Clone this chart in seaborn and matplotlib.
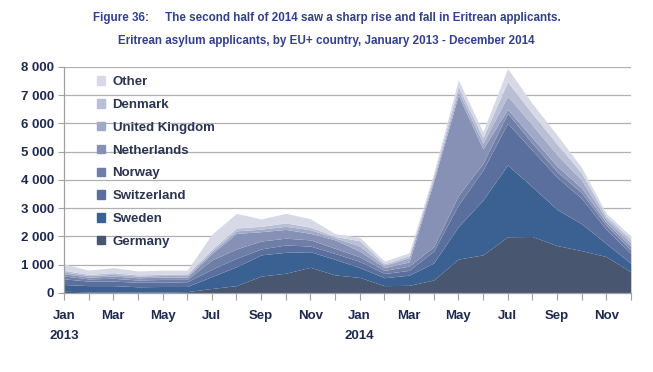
import matplotlib
matplotlib.use("Agg")
import matplotlib.pyplot as plt
import matplotlib.patches as mpatches
import numpy as np
import seaborn as sns

months = ["Jan", "Feb", "Mar", "Apr", "May", "Jun", "Jul", "Aug", "Sep", "Oct", "Nov", "Dec"] * 2
tick_labels = ["Jan\n2013", "Mar", "May", "Jul", "Sep", "Nov",
               "Jan\n2014", "Mar", "May", "Jul", "Sep", "Nov"]
countries = ["Germany", "Sweden", "Switzerland", "Norway", "Netherlands",
             "United Kingdom", "Denmark", "Other"]

# monthly applicants, Jan 2013 - Dec 2014
germany = [60, 40, 40, 30, 30, 50, 160, 260, 600, 700, 910, 640,
           550, 260, 270, 460, 1200, 1350, 1990, 2000, 1680, 1500, 1290, 750]
sweden = [240, 220, 220, 190, 200, 180, 420, 670, 750, 740, 550, 550,
          350, 280, 360, 600, 1150, 1940, 2540, 1760, 1280, 950, 460, 300]
switzerland = [200, 160, 160, 160, 150, 170, 260, 300, 210, 260, 200, 210,
               220, 150, 170, 420, 770, 1060, 1480, 1290, 1140, 900, 500, 350]
norway = [100, 80, 100, 80, 100, 80, 330, 330, 280, 240, 220, 180,
          160, 110, 150, 160, 330, 240, 350, 250, 200, 200, 150, 120]
netherlands = [80, 60, 80, 80, 80, 80, 230, 550, 330, 310, 230, 300,
               200, 100, 150, 2310, 3550, 510, 140, 200, 200, 170, 100, 130]
uk = [60, 60, 60, 60, 60, 60, 80, 90, 90, 110, 130, 70,
      180, 80, 150, 100, 150, 200, 470, 450, 400, 280, 120, 130]
denmark = [60, 40, 60, 40, 40, 60, 70, 100, 100, 120, 90, 50,
           190, 50, 70, 100, 170, 200, 510, 400, 380, 250, 100, 120]
other = [230, 150, 180, 140, 150, 130, 530, 520, 260, 340, 300, 100,
         120, 100, 100, 100, 230, 210, 470, 360, 320, 200, 100, 120]

series = [germany, sweden, switzerland, norway, netherlands, uk, denmark, other]
colors = ["#485670", "#3a6191", "#5a6f9e", "#6f7ea6", "#8791b5",
          "#a1a9c8", "#b9bfd5", "#d7dae6"]
navy = "#1f2a4e"
title_blue = "#33408c"

sns.set_theme(style="white")
plt.rcParams["font.family"] = ["Liberation Sans", "DejaVu Sans"]
palette = sns.color_palette(colors)

fig = plt.figure(figsize=(6.53, 3.72), dpi=100)
ax = fig.add_axes([0.098, 0.2124, 0.868, 0.6075])

x = np.arange(len(months))
ax.stackplot(x, *series, colors=palette, linewidth=0)

ax.set_xlim(0, len(months) - 1)
ax.set_ylim(0, 8000)
ax.set_yticks(np.arange(0, 8001, 1000))
ax.set_yticklabels([f"{v:,}".replace(",", " ") for v in range(0, 8001, 1000)],
                   fontsize=9.5, fontweight="bold", color=navy)
ax.set_xticks(x, minor=True)
ax.set_xticks(x[::2])
ax.set_xticklabels(tick_labels, fontsize=9.5, fontweight="bold", color=navy,
                   linespacing=1.9)
ax.tick_params(axis="x", which="both", length=5, color="#a0a0a0", width=0.8,
               direction="out", pad=7, bottom=True)
ax.tick_params(axis="y", length=4, color="#a0a0a0", width=0.8, direction="out",
               pad=3, left=True)
ax.grid(axis="y", color="#b0b0b0", linewidth=0.9)
ax.set_axisbelow(True)
sns.despine(ax=ax, top=True, right=True)
for side in ("left", "bottom"):
    ax.spines[side].set_color("#a0a0a0")
    ax.spines[side].set_linewidth(0.9)

handles = [mpatches.Patch(color=c, label=n) for c, n in zip(palette, countries)][::-1]
leg = ax.legend(handles=handles, loc="upper left", bbox_to_anchor=(0.038, 1.012),
                frameon=False, handlelength=0.6, handleheight=0.6,
                handletextpad=0.55, labelspacing=0.82,
                prop={"weight": "bold", "size": 9.5})
for t in leg.get_texts():
    t.set_color("#2b3552")

title_font = ["Liberation Sans Narrow", "Liberation Sans", "DejaVu Sans"]
fig.text(0.5, 0.952, "Figure 36:     The second half of 2014 saw a sharp rise and fall in Eritrean applicants.",
         ha="center", va="center", fontsize=8.4, fontweight="bold", color=title_blue,
         family=title_font)
fig.text(0.5, 0.890, "Eritrean asylum applicants, by EU+ country, January 2013 - December 2014",
         ha="center", va="center", fontsize=8.4, fontweight="bold", color=title_blue,
         family=title_font)

fig.savefig("out.png", dpi=100)
